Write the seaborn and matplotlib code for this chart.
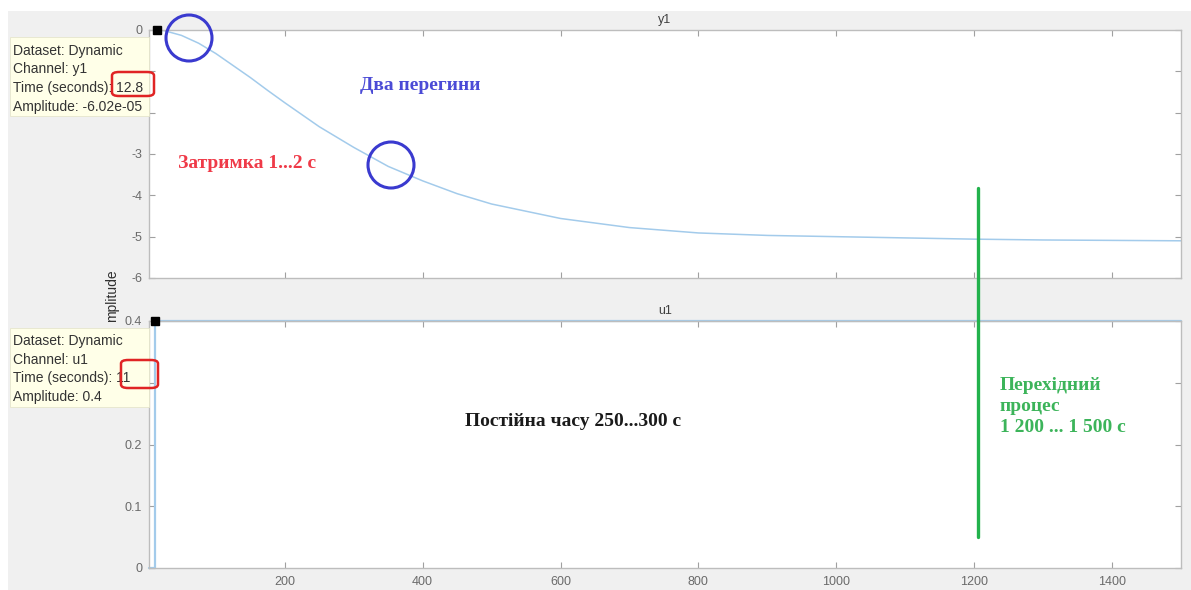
import numpy as np
import pandas as pd
import matplotlib
matplotlib.use("Agg")
import matplotlib.pyplot as plt
import seaborn as sns
from matplotlib.patches import Rectangle, FancyBboxPatch, Ellipse
from matplotlib.lines import Line2D

# ---- data ----
t_y1 = [12.8, 25, 50, 75, 100, 125, 150, 175, 200, 250, 300, 350, 400, 450,
        500, 600, 700, 800, 900, 1000, 1100, 1200, 1300, 1400, 1500]
y1 = [0.0, -0.015, -0.13, -0.32, -0.57, -0.86, -1.15, -1.46, -1.76, -2.34,
      -2.84, -3.3, -3.65, -3.96, -4.21, -4.56, -4.78, -4.91, -4.97, -5.0,
      -5.03, -5.06, -5.08, -5.09, -5.1]
t_u1 = [3, 11, 11, 1500]
u1 = [0.0, 0.0, 0.4, 0.4]
x_ticks = [200, 400, 600, 800, 1000, 1200, 1400]
y1_ticks = [0, -1, -2, -3, -4, -5, -6]
y1_labels = ["0", "", "", "-3", "-4", "-5", "-6"]   # -1, -2 hidden by datatip
u1_ticks = [0, 0.1, 0.2, 0.3, 0.4]
u1_labels = ["0", "0.1", "0.2", "", "0.4"]          # 0.3 hidden by datatip

W, H = 1191, 590
sns.set_theme(style="white")
plt.rcParams['font.family'] = ['Liberation Sans', 'DejaVu Sans']

fig = plt.figure(figsize=(W / 100, H / 100), dpi=100)
fig.patch.set_facecolor("white")


def px(x, y):
    return (x / W, 1 - y / H)


# gray window background
fig.add_artist(Rectangle(px(8, 590), (W - 8) / W, (590 - 11) / H,
                         transform=fig.transFigure, facecolor="#f0f0f0",
                         edgecolor="none", zorder=0))

L, R = 149, 1181
ax1 = fig.add_axes([L / W, 1 - 278 / H, (R - L) / W, (278 - 30) / H])
ax2 = fig.add_axes([L / W, 1 - 568 / H, (R - L) / W, (568 - 321) / H])

line_col = "#a3cbeb"
df1 = pd.DataFrame({"t": t_y1, "y": y1})
df2 = pd.DataFrame({"t": t_u1, "u": u1})
sns.lineplot(data=df1, x="t", y="y", ax=ax1, color=line_col, linewidth=1.1,
             estimator=None, sort=False)
sns.lineplot(data=df2, x="t", y="u", ax=ax2, color=line_col, linewidth=1.6,
             estimator=None, sort=False, clip_on=False)

spine_col = "#bdbdbd"
for ax, yt, yl, ylim in [(ax1, y1_ticks, y1_labels, (-6, 0)),
                         (ax2, u1_ticks, u1_labels, (0, 0.4))]:
    ax.set_facecolor("white")
    ax.set_xlim(3, 1500)
    ax.set_ylim(*ylim)
    ax.set_xticks(x_ticks)
    ax.set_yticks(yt)
    ax.set_yticklabels(yl)
    ax.set_xlabel("")
    ax.set_ylabel("")
    for s in ax.spines.values():
        s.set_visible(True)
        s.set_color(spine_col)
        s.set_linewidth(1.0)
    ax.tick_params(direction="in", length=4, width=0.8, color="#a0a0a0",
                   labelsize=9, labelcolor="#6a6a6a", top=True, right=True,
                   bottom=True, left=True, pad=5)
    ax.grid(False)

ax1.tick_params(labelbottom=False)
ax2.set_xticklabels([str(v) for v in x_ticks])
ax2.tick_params(axis="x", pad=6)

ax1.set_title("y1", fontsize=9, color="#404040", pad=5)
ax2.set_title("u1", fontsize=9, color="#404040", pad=5)

fig.text(*px(112, 296), "mplitude", rotation=90, ha="center", va="center",
         fontsize=10, color="#303030", zorder=1)

# datatip markers
fig.add_artist(Rectangle(px(153, 34), 8 / W, 8 / H, transform=fig.transFigure,
                         facecolor="black", edgecolor="black", zorder=6))
fig.add_artist(Rectangle(px(151, 325), 8 / W, 8 / H, transform=fig.transFigure,
                         facecolor="black", edgecolor="black", zorder=6))

# datatip boxes
tips = [
    (10, 37, 149, 116, ["Dataset: Dynamic", "Channel: y1", "Time (seconds): 12.8",
                        "Amplitude: -6.02e-05"], 51),
    (10, 328, 149, 407, ["Dataset: Dynamic", "Channel: u1", "Time (seconds): 11",
                         "Amplitude: 0.4"], 341),
]
for x0, y0, x1, yb, lines, ty in tips:
    fig.add_artist(Rectangle(px(x0, yb), (x1 - x0) / W, (yb - y0) / H,
                             transform=fig.transFigure, facecolor="#ffffe8",
                             edgecolor="#e6e6cc", linewidth=0.6, zorder=5))
    for i, s in enumerate(lines):
        fig.text(*px(x0 + 3, ty + i * 18.5), s, fontsize=10, color="#333333",
                 ha="left", va="center", zorder=7)

# red highlight boxes
for x0, y0, x1, yb in [(112, 72, 154, 96), (121, 360, 158, 388)]:
    fig.add_artist(FancyBboxPatch(px(x0, yb), (x1 - x0) / W, (yb - y0) / H,
                                  boxstyle="round,pad=0,rounding_size=0.006",
                                  transform=fig.transFigure, facecolor="none",
                                  edgecolor="#e02424", linewidth=1.8, zorder=8))

# blue circles
for cx, cy in [(189, 38), (391, 165)]:
    fig.add_artist(Ellipse(px(cx, cy), 46 / W, 46 / H, transform=fig.transFigure,
                           facecolor="none", edgecolor="#3a3acf", linewidth=2.2,
                           zorder=8))

# green vertical line
fig.add_artist(Line2D([978 / W, 978 / W], [1 - 188 / H, 1 - 537 / H],
                      transform=fig.transFigure, color="#22b24c", linewidth=2.4,
                      zorder=8))

serif = ["Liberation Serif", "DejaVu Serif"]
fs = 14
fig.text(*px(360, 85), "Два перегини", family=serif, weight="bold",
         fontsize=fs, color="#4b4bd6", ha="left", va="center", zorder=8)
fig.text(*px(178, 163), "Затримка 1...2 с", family=serif, weight="bold",
         fontsize=fs, color="#ef3a48", ha="left", va="center", zorder=8)
fig.text(*px(465, 422), "Постійна часу 250...300 с", family=serif, weight="bold",
         fontsize=fs, color="#1a1a1a", ha="left", va="center", zorder=8)
for i, s in enumerate(["Перехідний", "процес", "1 200 ... 1 500 с"]):
    fig.text(*px(1000, 385 + i * 21.5), s, family=serif, weight="bold",
             fontsize=fs, color="#3cb45a", ha="left", va="center", zorder=8)

fig.savefig("out.png", dpi=100, facecolor=fig.get_facecolor())
